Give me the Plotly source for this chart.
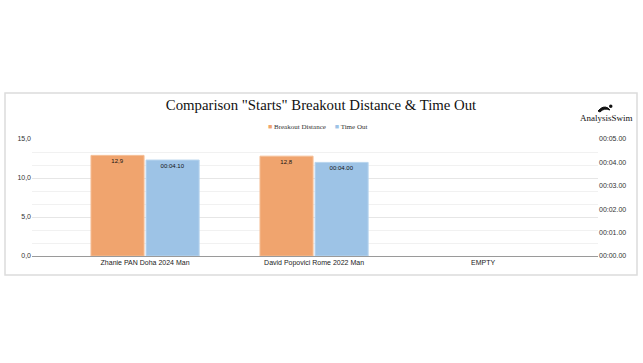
import plotly.graph_objects as go

categories = ["Zhanie PAN Doha 2024 Man", "David Popovici Rome 2022 Man", "EMPTY"]
breakout_distance = [12.9, 12.8, None]
breakout_labels = ["12,9", "12,8", ""]
time_out_seconds = [4.10, 4.00, None]
time_out_labels = ["00:04.10", "00:04.00", ""]
left_tickvals = [0, 5, 10, 15]
left_ticktext = ["0,0", "5,0", "10,0", "15,0"]
right_tickvals = [0, 1, 2, 3, 4, 5]
right_ticktext = ["00:00.00", "00:01.00", "00:02.00", "00:03.00", "00:04.00", "00:05.00"]

ORANGE = "#F0A46E"
BLUE = "#9DC3E6"
TXT = "#333333"
SANS = "Liberation Sans, Arial, sans-serif"
SERIF = "Liberation Serif, Times New Roman, serif"

fig = go.Figure()
fig.add_trace(go.Bar(
    x=categories, y=breakout_distance, name="Breakout Distance",
    marker=dict(color=ORANGE, line=dict(color="#F5BE95", width=1)),
    width=0.314, offset=-0.32,
    text=breakout_labels, textposition="inside", insidetextanchor="end",
    textfont=dict(family=SANS, size=6, color="#111"), textangle=0,
    yaxis="y", showlegend=False,
))
fig.add_trace(go.Bar(
    x=categories, y=time_out_seconds, name="Time Out",
    marker=dict(color=BLUE, line=dict(color="#B8D5EE", width=1)),
    width=0.314, offset=0.006,
    text=time_out_labels, textposition="inside", insidetextanchor="end",
    textfont=dict(family=SANS, size=6, color="#111"), textangle=0,
    yaxis="y2", showlegend=False,
))

# plot area: x 32..598, y 139..256 (117 px tall, 566 px wide)
W, H = 566.0, 117.0
def px(x):
    return (x - 32) / W
def py(y):
    return (256 - y) / H

legend_text = (f"<span style='color:{ORANGE}'>■</span>&nbsp;Breakout Distance"
               f"&nbsp;&nbsp;&nbsp;&nbsp;&nbsp;<span style='color:{BLUE}'>■</span>&nbsp;Time Out")

fig.update_layout(
    template="none",
    width=643, height=363,
    font=dict(family=SANS, color=TXT),
    margin=dict(l=32, r=45, t=139, b=107, pad=0),
    paper_bgcolor="white", plot_bgcolor="white",
    showlegend=False,
    title=dict(text='Comparison "Starts" Breakout Distance & Time Out',
               x=321 / 643, xanchor="center", xref="container", y=1 - 105 / 363, yanchor="middle",
               yref="container",
               font=dict(family=SERIF, size=14.8, color="#111")),
    xaxis=dict(range=[-0.669, 2.68], showgrid=False, showline=True, linecolor="#9a9a9a",
               linewidth=1, ticks="", color="#222222",
               tickfont=dict(family=SANS, size=7, color="#222222"),
               zeroline=False, fixedrange=True),
    yaxis=dict(range=[0, 15], tickvals=left_tickvals, ticktext=left_ticktext,
               showgrid=True, gridcolor="#e6e6e6", gridwidth=1, color=TXT,
               minor=dict(dtick=5 / 3, tick0=0, showgrid=True, gridcolor="#f1f1f1", ticks=""),
               zeroline=False, showline=False, ticks="",
               tickfont=dict(family=SANS, size=7, color=TXT)),
    yaxis2=dict(range=[0, 5], overlaying="y", side="right", tickvals=right_tickvals,
                ticktext=right_ticktext, showgrid=False, zeroline=False, showline=False,
                ticks="", color=TXT, tickfont=dict(family=SANS, size=7, color=TXT)),
    barmode="overlay",
    shapes=[
        dict(type="rect", xref="paper", yref="paper",
             x0=px(5), x1=px(637), y0=py(275), y1=py(93),
             line=dict(color="#dcdcdc", width=1.5), fillcolor="rgba(0,0,0,0)",
             layer="below"),
        # small swimmer logo mark
        dict(type="path", xref="paper", yref="paper",
             path=(f"M {px(598)},{py(111)} Q {px(603)},{py(105)} {px(608)},{py(108)} "
                   f"L {px(610)},{py(110)} Q {px(604)},{py(107.5)} {px(600)},{py(112)} Z"),
             fillcolor="#111", line=dict(color="#111", width=1)),
        dict(type="circle", xref="paper", yref="paper",
             x0=px(609), x1=px(612.5), y0=py(108), y1=py(104.5),
             fillcolor="#111", line=dict(color="#111", width=0)),
    ],
    annotations=[
        dict(text="AnalysisSwim", xref="paper", yref="paper",
             x=px(606), y=py(118), xanchor="center", yanchor="middle",
             showarrow=False, font=dict(family=SERIF, size=9, color="#111")),
        dict(text=legend_text, xref="paper", yref="paper",
             x=px(317), y=py(126.5), xanchor="center", yanchor="middle",
             showarrow=False, font=dict(family=SERIF, size=7, color="#333")),
    ],
)

fig.write_html("out.html", config={"displayModeBar": False},
               post_script="document.body.style.margin='0px';")
